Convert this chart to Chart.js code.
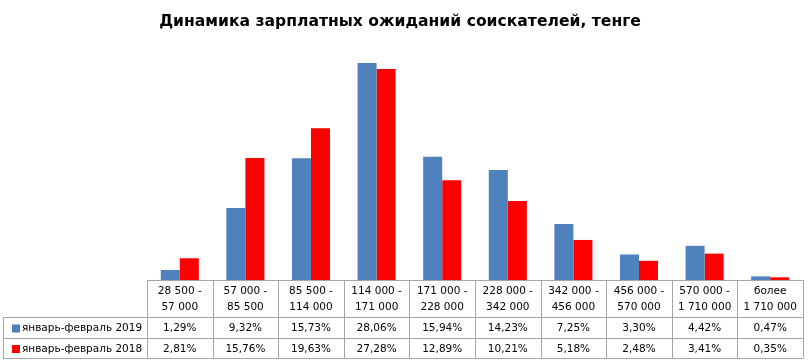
<!DOCTYPE html>
<html lang="ru">
<head>
<meta charset="UTF-8">
<title>Динамика зарплатных ожиданий</title>
<script src="https://cdn.jsdelivr.net/npm/chart.js"></script>
<style>
    html, body { margin: 0; padding: 0; background: #fff; }
    #wrap { width: 810px; height: 363px; }
</style>
</head>
<body>
<div id="wrap"><canvas id="grafico"></canvas></div>
<script>
// категории (две строки подписи)
const categorias = [
    ['28 500 -', '57 000'],
    ['57 000 -', '85 500'],
    ['85 500 -', '114 000'],
    ['114 000 -', '171 000'],
    ['171 000 -', '228 000'],
    ['228 000 -', '342 000'],
    ['342 000 -', '456 000'],
    ['456 000 -', '570 000'],
    ['570 000 -', '1 710 000'],
    ['более', '1 710 000']
];
const serie2019 = [1.29, 9.32, 15.73, 28.06, 15.94, 14.23, 7.25, 3.30, 4.42, 0.47];
const serie2018 = [2.81, 15.76, 19.63, 27.28, 12.89, 10.21, 5.18, 2.48, 3.41, 0.35];
const nombreSeries = ['январь-февраль 2019', 'январь-февраль 2018'];
const coloresSeries = ['#4f81bd', '#ff0000'];
const titulo = 'Динамика зарплатных ожиданий соискателей, тенге';

const fmt = v => v.toFixed(2).replace('.', ',') + '%';

// заголовок и таблица данных под графиком
const tablaPlugin = {
    id: 'tablaDatos',
    afterDraw(chart) {
        const ctx = chart.ctx;
        const x = chart.scales.x;
        const area = chart.chartArea;
        const n = categorias.length;
        const paso = (x.getPixelForValue(n - 1) - x.getPixelForValue(0)) / (n - 1);
        const izq = x.getPixelForValue(0) - paso / 2;
        const der = izq + paso * n;
        const y0 = area.bottom, y1 = y0 + 37, y2 = y1 + 21, y3 = y2 + 20;
        const xLeft = 3;

        ctx.save();
        ctx.fillStyle = '#000';
        ctx.font = 'bold 15.6px "DejaVu Sans"';
        ctx.textAlign = 'center';
        ctx.textBaseline = 'middle';
        ctx.fillText(titulo, 400, 22);

        ctx.strokeStyle = '#a6a6a6';
        ctx.lineWidth = 1;
        ctx.beginPath();
        // горизонтальные линии
        ctx.moveTo(izq, y0 + 0.5); ctx.lineTo(der, y0 + 0.5);
        ctx.moveTo(xLeft, y1 + 0.5); ctx.lineTo(der, y1 + 0.5);
        ctx.moveTo(xLeft, y2 + 0.5); ctx.lineTo(der, y2 + 0.5);
        ctx.moveTo(xLeft, y3 + 0.5); ctx.lineTo(der, y3 + 0.5);
        // вертикальные
        ctx.moveTo(xLeft + 0.5, y1); ctx.lineTo(xLeft + 0.5, y3);
        for (let i = 0; i <= n; i++) {
            const xx = Math.round(izq + i * paso) + 0.5;
            ctx.moveTo(xx, y0); ctx.lineTo(xx, y3);
        }
        ctx.stroke();

        ctx.font = '10.5px "DejaVu Sans"';
        categorias.forEach((c, i) => {
            const cx = x.getPixelForValue(i);
            ctx.fillText(c[0], cx, y0 + 11);
            ctx.fillText(c[1], cx, y0 + 27);
            ctx.fillText(fmt(serie2019[i]), cx, (y1 + y2) / 2 + 1);
            ctx.fillText(fmt(serie2018[i]), cx, (y2 + y3) / 2 + 1);
        });

        ctx.textAlign = 'left';
        [[y1, y2], [y2, y3]].forEach((r, k) => {
            const cy = (r[0] + r[1]) / 2 + 1;
            ctx.fillStyle = coloresSeries[k];
            ctx.fillRect(12, cy - 4, 8, 8);
            ctx.fillStyle = '#000';
            ctx.fillText(nombreSeries[k], 22, cy);
        });
        ctx.restore();
    }
};

const ctx = document.getElementById('grafico').getContext('2d');
new Chart(ctx, {
    type: 'bar',
    data: {
        labels: categorias,
        datasets: [
            {
                label: nombreSeries[0],
                data: serie2019,
                backgroundColor: coloresSeries[0],
                borderWidth: 0
            },
            {
                label: nombreSeries[1],
                data: serie2018,
                backgroundColor: coloresSeries[1],
                borderWidth: 0
            }
        ]
    },
    options: {
        responsive: true,
        maintainAspectRatio: false,
        animation: false,
        layout: { padding: { top: 48, left: 147, right: 7, bottom: 83 } },
        datasets: { bar: { categoryPercentage: 0.58, barPercentage: 1 } },
        plugins: {
            legend: { display: false },
            tooltip: { enabled: false },
            title: { display: false }
        },
        scales: {
            x: { display: false },
            y: { display: false, min: 0, max: 30 }
        }
    },
    plugins: [tablaPlugin]
});
</script>
</body>
</html>
